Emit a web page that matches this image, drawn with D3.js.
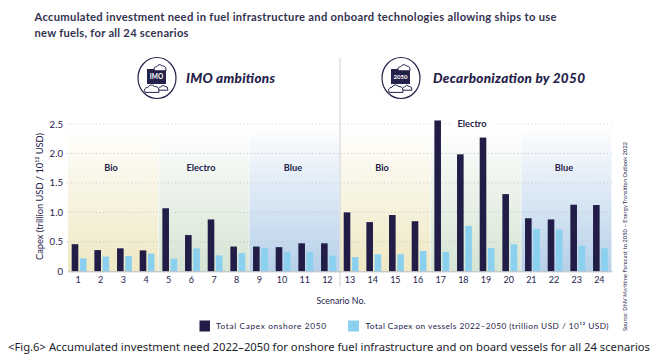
<!DOCTYPE html>
<html><head><meta charset="utf-8">
<script src="https://cdn.jsdelivr.net/npm/d3@7"></script>
<style>
html,body{margin:0;padding:0;background:#fff}
svg{display:block}
text{font-family:Lato,"Open Sans",sans-serif;fill:#24214a}
</style></head><body>
<svg id="c" width="657" height="362"></svg>
<script>
const scenarios = d3.range(1,25).map(String);
const onshore = [0.46,0.36,0.39,0.355,1.07,0.615,0.88,0.42,0.42,0.41,0.475,0.475,1.0,0.835,0.955,0.85,2.56,1.985,2.27,1.31,0.90,0.88,1.13,1.125];
const vessels = [0.22,0.25,0.26,0.30,0.215,0.39,0.27,0.31,0.395,0.33,0.33,0.265,0.24,0.29,0.29,0.345,0.33,0.77,0.395,0.46,0.72,0.71,0.43,0.39];
const yTicks = [0,0.5,1.0,1.5,2.0,2.5];
const groupNames = ["Bio","Electro","Blue","Bio","Electro","Blue"];
const groupStart = [0,4,8,12,16,20];
const groupColors = ["#efe8c3","#d5e4d3","#b6d0e9","#efe8c3","#d5e4d3","#b6d0e9"];
const seriesNames = ["Total Capex onshore 2050","Total Capex on vessels 2022–2050 (trillion USD / 10¹² USD)"];
const seriesColors = ["#211d47","#8bd0ee"];

const svg = d3.select("#c");
const x = d3.scaleBand().domain(scenarios).range([67.7,611.7]);
const y = d3.scaleLinear().domain([0,2.5]).range([271.3,124]);
const dark="#24214a";

// title
svg.append("text").attr("x",34.5).attr("y",21).attr("font-size",11.2).attr("font-weight",700).style("fill","#33324f").attr("textLength",522).text("Accumulated investment need in fuel infrastructure and onboard technologies allowing ships to use");
svg.append("text").attr("x",34.5).attr("y",37).attr("font-size",11.2).attr("font-weight",700).style("fill","#33324f").attr("textLength",154).text("new fuels, for all 24 scenarios");

// band backgrounds
const defs = svg.append("defs");
groupColors.forEach((c,i)=>{
  const g = defs.append("linearGradient").attr("id","g"+i).attr("x1",0).attr("x2",0).attr("y1",0).attr("y2",1);
  g.append("stop").attr("offset",0).attr("stop-color",c).attr("stop-opacity",0);
  g.append("stop").attr("offset",0.18).attr("stop-color",c).attr("stop-opacity",0.2);
  g.append("stop").attr("offset",1).attr("stop-color",c).attr("stop-opacity",1);
  const x0 = x(scenarios[groupStart[i]]);
  const x1 = x(scenarios[groupStart[i]+3])+x.bandwidth();
  svg.append("rect").attr("x",x0+0.3).attr("y",126).attr("width",x1-x0-0.6).attr("height",y(0)-126).attr("fill",`url(#g${i})`);
});

// grid
yTicks.slice(1).forEach(t=>{
  svg.append("line").attr("x1",67).attr("x2",612).attr("y1",y(t)).attr("y2",y(t))
    .attr("stroke",t===2.5?"#c9c9cf":"#b9bcc0").attr("stroke-width",0.8).attr("stroke-dasharray","1 2.6");
});
// white gap behind the "Electro" label above the plot
svg.append("rect").attr("x",452).attr("y",117).attr("width",41).attr("height",12).attr("fill","#fff");

// divider
svg.append("line").attr("x1",340).attr("x2",340).attr("y1",58).attr("y2",287).attr("stroke","#cfd0d4").attr("stroke-width",1);

// bars
const pad=4, bw=6.6, gap=1.6;
svg.append("g").selectAll("rect").data(onshore).join("rect")
  .attr("x",(d,i)=>x(scenarios[i])+pad).attr("width",bw)
  .attr("y",d=>y(d)).attr("height",d=>y(0)-y(d)).attr("fill",seriesColors[0]);
svg.append("g").selectAll("rect").data(vessels).join("rect")
  .attr("x",(d,i)=>x(scenarios[i])+pad+bw+gap).attr("width",bw)
  .attr("y",d=>y(d)).attr("height",d=>y(0)-y(d)).attr("fill",seriesColors[1]);

// axes
const xa = svg.append("g").attr("transform",`translate(0,${y(0)})`)
  .call(d3.axisBottom(x).tickSize(0).tickPadding(5));
xa.select(".domain").attr("stroke","#b5b7bd").attr("stroke-width",1);
xa.selectAll("text").attr("font-size",9).attr("dx",-1).attr("fill","#2f2d50").style("font-family","Lato");
const ya = svg.append("g").attr("transform","translate(67,0)")
  .call(d3.axisLeft(y).tickValues(yTicks).tickSize(0).tickPadding(4).tickFormat(d=>d===0?"0":d3.format(".1f")(d)));
ya.select(".domain").remove();
ya.selectAll("text").attr("font-size",9.6).attr("fill","#2f2d50").style("font-family","Lato");

svg.append("text").attr("transform","translate(42.5,196.5) rotate(-90)").attr("text-anchor","middle").attr("font-size",9.3).attr("textLength",127).attr("fill","#2f2d50").text("Capex (trillion USD / 10¹² USD)");
svg.append("text").attr("x",341).attr("y",303.5).attr("text-anchor","middle").attr("font-size",8.8).attr("fill","#2f2d50").text("Scenario No.");

// group labels
const labelY=[171,171,171,171,126.5,171];
const labelX=[111,201,293,382,472,564];
groupNames.forEach((n,i)=>{
  svg.append("text").attr("x",labelX[i]).attr("y",labelY[i]).attr("text-anchor","middle").attr("font-size",9.2).attr("font-weight",700).attr("fill","#1f1d3d").text(n);
});

// legend
svg.append("rect").attr("x",199.5).attr("y",320.5).attr("width",10.5).attr("height",11).attr("fill",seriesColors[0]);
svg.append("text").attr("x",216).attr("y",329).attr("font-size",8.3).attr("fill","#3a3a58").attr("textLength",110).text(seriesNames[0]);
svg.append("rect").attr("x",348).attr("y",320.5).attr("width",11).attr("height",11).attr("fill",seriesColors[1]);
svg.append("text").attr("x",365.5).attr("y",329).attr("font-size",8.3).attr("fill","#3a3a58").attr("textLength",243).text(seriesNames[1]);

// source
svg.append("text").attr("transform","translate(627,331) rotate(-90)").attr("font-size",5.5).attr("fill","#3a3a58").attr("textLength",189).text("Source: DNV Maritime Forecast to 2050 – Energy Transition Outlook 2022");

// caption
svg.append("text").attr("x",8).attr("y",351).attr("font-size",11).style("fill","#1c1c2a").style("font-family","'Noto Sans'").attr("textLength",642).attr("lengthAdjust","spacingAndGlyphs").text("<Fig.6> Accumulated investment need 2022–2050 for onshore fuel infrastructure and on board vessels for all 24 scenarios");

// header icons and headings
function cloud(g,cx,cy,s){
  g.append("path").attr("d",`M${cx-9*s},${cy+4*s} q${-3*s},${-5*s} ${3*s},${-6*s} q${3*s},${-5*s} ${8*s},${-1*s} q${6*s},0 ${5*s},${7*s} z`)
   .attr("fill","#fff").attr("stroke",dark).attr("stroke-width",1);
}
function icon(cx,cy,label){
  const g=svg.append("g");
  g.append("ellipse").attr("cx",cx).attr("cy",cy).attr("rx",19).attr("ry",20.5).attr("fill","#fff").attr("stroke",dark).attr("stroke-width",1.2);
  g.append("rect").attr("x",cx-10).attr("y",cy-9).attr("width",19).attr("height",15).attr("fill",dark);
  g.append("text").attr("x",cx-0.5).attr("y",cy+1).attr("text-anchor","middle").attr("font-size",label.length>3?6:6.5).attr("font-weight",700).style("fill","#fff").text(label);
  cloud(g,cx+4,cy-10,0.7);
  cloud(g,cx-4,cy+11,0.85);
  cloud(g,cx+7,cy+10,0.55);
}
icon(157,78,"IMO");
icon(401,78,"2050");
svg.append("text").attr("x",186).attr("y",83).attr("font-size",13.5).attr("font-weight",900).attr("font-style","italic").attr("fill",dark).attr("textLength",89).text("IMO ambitions");
svg.append("text").attr("x",433).attr("y",83).attr("font-size",13.5).attr("font-weight",900).attr("font-style","italic").attr("fill",dark).attr("textLength",152).text("Decarbonization by 2050");
</script>
</body></html>
